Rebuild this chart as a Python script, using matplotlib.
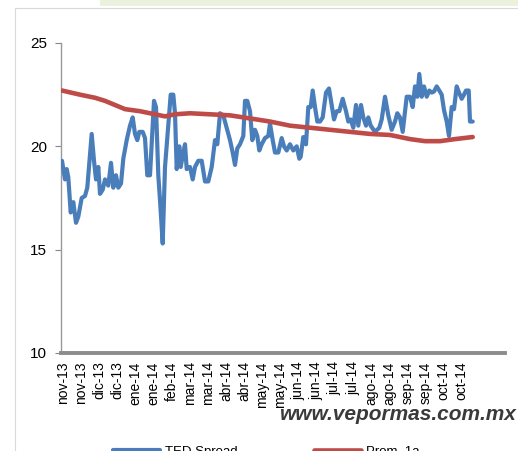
import matplotlib
matplotlib.use("Agg")
import matplotlib.pyplot as plt
from matplotlib.patches import Rectangle

plt.rcParams['font.family'] = ['Liberation Sans', 'DejaVu Sans']

# x positions (observation index units) and values for TED Spread (rows of 10)
ted_x = [0, 3, 4.7, 6.3, 8.7, 11.3, 14, 16.3, 19.7, 23,
         25.3, 29.7, 32, 34, 36.3, 38, 40.7, 43, 46.3, 49,
         51.3, 54, 56.3, 59, 61.3, 64.7, 68, 70.7, 73, 75.3,
         77.3, 80.7, 83, 85.3, 88, 89.7, 92, 94, 96.3, 98,
         100.7, 103, 106.3, 108.7, 111.3, 113, 114.7, 117.3, 118.7, 121.3,
         123, 124.7, 128, 130.7, 133, 136.3, 139.7, 143, 146.3, 149.7,
         153, 155.3, 158, 161.3, 164.7, 168, 170.7, 173, 175.3, 178,
         181.3, 183, 185.3, 188, 190.3, 193, 195.3, 197.3, 199.7, 203,
         206.3, 208, 210.7, 213, 216.3, 219.7, 222, 224.7, 228, 231.3,
         234.7, 237.3, 238.7, 241.3, 244, 246.3, 248.7, 250.7, 253, 255.3,
         258, 260.7, 264, 267, 269.7, 272, 274.7, 277.3, 280.7, 284,
         286.3, 288.7, 291.3, 294, 296.3, 299, 301.3, 304, 306.3, 308.7,
         313, 317.3, 319.7, 323, 326.3, 329.7, 333, 335.3, 338, 340.7,
         343, 344.7, 348, 350.7, 353, 355.3, 357.3, 359.7, 362, 364.7,
         367.3, 369.7, 372, 374.7, 377.3, 379.7, 382, 384.7, 387, 389.7,
         392, 394.7, 397, 399.7, 402, 404, 406.7, 408, 410.7]
ted_y = [19.3, 18.4, 18.9, 18.5, 16.8, 17.3, 16.3, 16.6, 17.5, 17.6,
         18.0, 20.6, 19.3, 18.4, 19.0, 17.7, 17.9, 18.4, 18.1, 19.2,
         18.0, 18.6, 18.0, 18.2, 19.4, 20.3, 21.0, 21.4, 20.6, 20.3,
         20.7, 20.7, 20.4, 18.6, 18.6, 20.1, 22.2, 21.9, 18.6, 17.4,
         15.3, 19.0, 21.0, 22.5, 22.5, 21.6, 18.9, 20.0, 19.0, 19.7,
         20.1, 18.9, 19.0, 18.4, 19.0, 19.3, 19.3, 18.3, 18.3, 19.0,
         20.3, 20.1, 21.6, 21.5, 20.9, 20.3, 19.7, 19.1, 19.9, 20.1,
         20.5, 22.2, 22.2, 21.7, 20.3, 20.8, 20.5, 19.8, 20.1, 20.4,
         20.5, 21.1, 20.3, 19.7, 19.7, 20.4, 20.0, 19.8, 20.1, 19.8,
         20.0, 19.4, 19.5, 20.45, 20.1, 21.9, 21.9, 22.7, 21.9, 21.2,
         21.2, 21.4, 22.6, 22.8, 22.0, 21.3, 21.7, 21.7, 22.3, 21.7,
         21.2, 21.3, 20.9, 22.0, 21.0, 22.0, 21.4, 21.0, 21.4, 21.0,
         20.7, 20.9, 21.3, 22.4, 21.5, 20.8, 21.2, 21.6, 21.4, 20.7,
         21.7, 22.4, 22.4, 21.9, 22.9, 22.4, 23.5, 22.4, 22.9, 22.4,
         22.7, 22.6, 22.65, 22.9, 22.7, 22.5, 21.75, 21.2, 20.5, 21.9,
         21.8, 22.9, 22.6, 22.3, 22.5, 22.7, 22.7, 21.2, 21.2]

# Prom. 1a (one-year average)
prom_x = [0, 18, 33, 43, 53, 63, 78, 93, 103, 113,
          128, 148, 168, 188, 208, 228, 248, 268, 288, 308,
          328, 348, 363, 378, 393, 410.7]
prom_y = [22.7, 22.5, 22.35, 22.2, 22.0, 21.8, 21.7, 21.55, 21.45, 21.55,
          21.6, 21.55, 21.5, 21.35, 21.2, 21.0, 20.9, 20.8, 20.7, 20.6,
          20.55, 20.35, 20.25, 20.25, 20.35, 20.45]

tick_labels = ['nov-13', 'nov-13', 'dic-13', 'dic-13', 'ene-14', 'ene-14', 'feb-14', 'mar-14',
               'mar-14', 'abr-14', 'abr-14', 'may-14', 'may-14', 'jun-14', 'jun-14', 'jul-14',
               'jul-14', 'ago-14', 'ago-14', 'sep-14', 'sep-14', 'oct-14', 'oct-14']
tick_start = 1.3
tick_step = 18.1

W, H = 518, 451
fig = plt.figure(figsize=(W / 100, H / 100), dpi=100)
fig.patch.set_facecolor('white')

# decorations: pale green band and chart frame (behind the axes)
fig.patches.append(Rectangle((100 / W, 1 - 6 / H), 418 / W, 6 / H, transform=fig.transFigure,
                             facecolor='#EAF1DD', edgecolor='none', zorder=-2))
fig.patches.append(Rectangle((15 / W, -0.1), 1.0, 1 - 8 / H + 0.1, transform=fig.transFigure,
                             facecolor='white', edgecolor='#D9D9D9', linewidth=0.8, zorder=-1))

ax = fig.add_axes([61 / W, 1 - 353 / H, 444 / W, 310 / H])
ax.set_zorder(1)
ax.set_facecolor('none')
l1, = ax.plot(ted_x, ted_y, color='#4A7EBB', linewidth=3.0, solid_joinstyle='round',
              solid_capstyle='round', zorder=3)
l2, = ax.plot(prom_x, prom_y, color='#BE4B48', linewidth=3.3, solid_capstyle='round', zorder=4)

ax.set_xlim(-1, 443)
ax.set_ylim(10, 25)
ax.set_yticks([10, 15, 20, 25])
ax.tick_params(axis='y', length=4, width=0.8, color='#868686', labelsize=11, pad=6,
               labelcolor='black')
ticks = [tick_start + tick_step * k for k in range(len(tick_labels))]
ax.set_xticks(ticks)
ax.set_xticklabels(tick_labels, rotation=90, fontsize=10, va='top', ha='center')
ax.tick_params(axis='x', length=0, pad=6)

for s in ['top', 'right']:
    ax.spines[s].set_visible(False)
ax.spines['left'].set_color('#999999')
ax.spines['left'].set_linewidth(1.0)
ax.spines['bottom'].set_color('#8C8C8C')
ax.spines['bottom'].set_linewidth(2.8)

fig.text(517 / W, 1 - 414 / H, 'www.vepormas.com.mx', fontsize=15, fontweight='bold',
         fontstyle='italic', color='#3A3A3A', ha='right', va='center', zorder=2)

leg = fig.legend([l1, l2], ['TED Spread', 'Prom. 1a'], loc='center left',
                 bbox_to_anchor=(113 / W, 1 - 451.5 / H), ncol=2, frameon=False, fontsize=9.5,
                 handlelength=3.55, handletextpad=0.38, columnspacing=5.8, borderpad=0,
                 borderaxespad=0)
leg.set_zorder(2)

fig.savefig('out.png', dpi=100)
